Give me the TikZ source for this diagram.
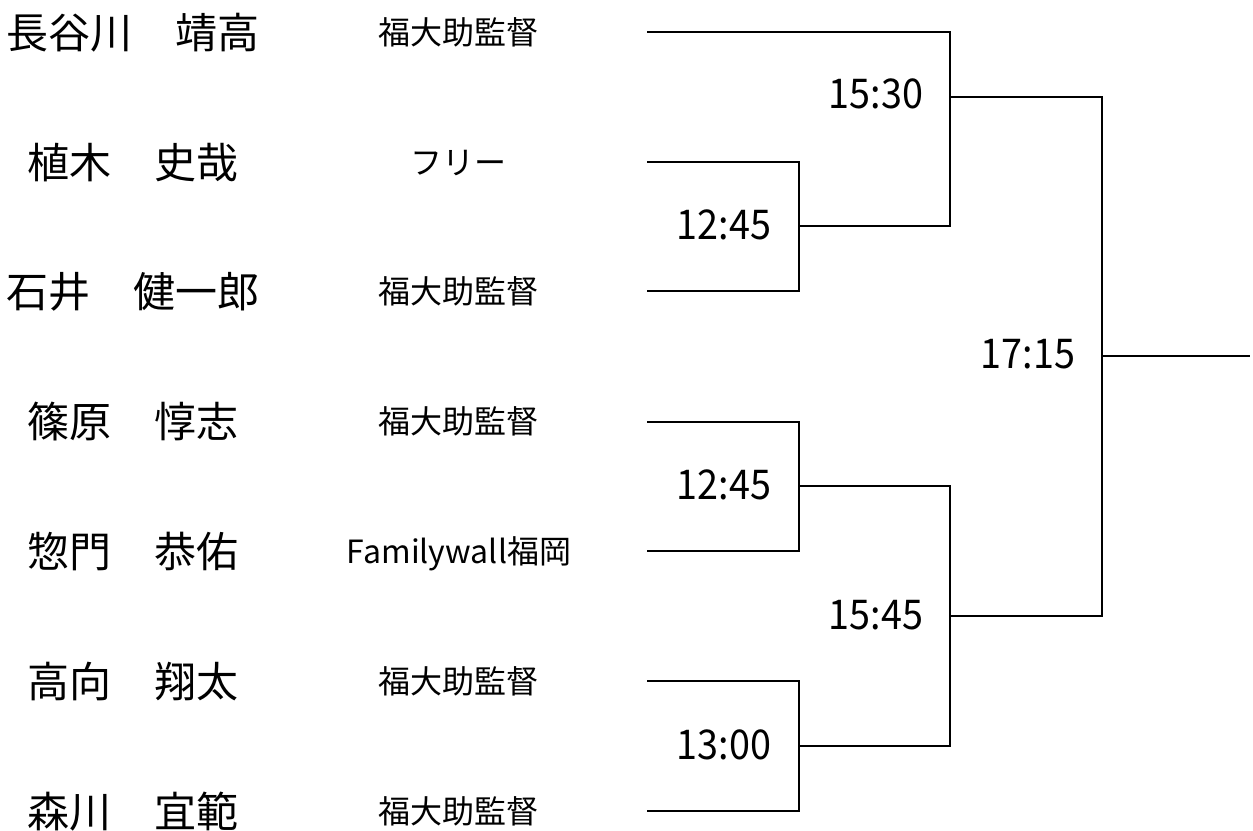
\documentclass[tikz,border=0pt]{standalone}
\usepackage{fontspec}
\setmainfont{Noto Sans CJK JP}
\begin{document}
\begin{tikzpicture}[x=1bp,y=-1bp,
  namelbl/.style={inner sep=0pt,font=\fontsize{42bp}{44bp}\selectfont,text height=37bp,text depth=5bp},
  afflbl/.style={inner sep=0pt,font=\fontsize{32bp}{34bp}\selectfont,text height=28.2bp,text depth=3.8bp},
  timelbl/.style={inner sep=0pt,font=\fontsize{41bp}{43bp}\selectfont,text height=30bp,text depth=0bp,xscale=0.92},
  bracket/.style={line width=2bp,black,line join=miter}]
\useasboundingbox (0,0) rectangle (1253,831);
% names
\node[namelbl] (n1) at (133,32)  {長谷川　靖高};
\node[namelbl] (n2) at (133,162) {植木　史哉};
\node[namelbl] (n3) at (133,291) {石井　健一郎};
\node[namelbl] (n4) at (133,421) {篠原　惇志};
\node[namelbl] (n5) at (133,551) {惣門　恭佑};
\node[namelbl] (n6) at (133,681) {高向　翔太};
\node[namelbl] (n7) at (133,811) {森川　宜範};
% affiliations
\node[afflbl] (f1) at (458,32)  {福大助監督};
\node[afflbl] (f2) at (458,162) {フリー};
\node[afflbl] (f3) at (458,291) {福大助監督};
\node[afflbl] (f4) at (458,421) {福大助監督};
\node[afflbl] (f5) at (459,551) {Familywall福岡};
\node[afflbl] (f6) at (458,681) {福大助監督};
\node[afflbl] (f7) at (458,811) {福大助監督};
% bracket points
\coordinate (s1) at (647,31.5);
\coordinate (s2) at (647,161.5);
\coordinate (s3) at (647,291);
\coordinate (s4) at (647,421.5);
\coordinate (s5) at (647,551);
\coordinate (s6) at (647,681);
\coordinate (s7) at (647,811);
\coordinate (a) at (799,226);
\coordinate (b) at (799,486);
\coordinate (c) at (799,746);
\coordinate (d) at (950,96.5);
\coordinate (e) at (950,615.5);
\coordinate (f) at (1102,356);
\coordinate (fin) at (1250,356);
% lines
\draw[bracket] (s2) -| (a) |- (s3);
\draw[bracket] (s4) -| (b) |- (s5);
\draw[bracket] (s6) -| (c) |- (s7);
\draw[bracket] (s1) -| (d) |- (a);
\draw[bracket] (b) -| (e) |- (c);
\draw[bracket] (d) -| (f) |- (e);
\draw[bracket] (f) -- (fin);
% times
\node[timelbl] (t1) at (876,93)  {15:30};
\node[timelbl] (t2) at (724,224) {12:45};
\node[timelbl] (t3) at (1028,353) {17:15};
\node[timelbl] (t4) at (724,484) {12:45};
\node[timelbl] (t5) at (876,614) {15:45};
\node[timelbl] (t6) at (724,744) {13:00};
\end{tikzpicture}
\end{document}
